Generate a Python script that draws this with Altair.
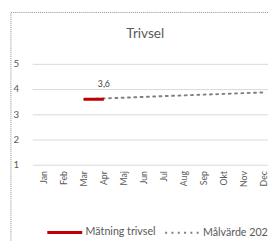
import altair as alt
import pandas as pd

months = ["Jan", "Feb", "Mar", "Apr", "Maj", "Jun", "Jul", "Aug", "Sep", "Okt", "Nov", "Dec"]
matning = [None, None, 3.6, 3.6, None, None, None, None, None, None, None, None]
malvarde = [None, None, 3.6, 3.63, 3.66, 3.69, 3.72, 3.75, 3.78, 3.81, 3.84, 3.87]
labels_matning = ["", "", "", "3,6", "", "", "", "", "", "", "", ""]
series = ["Mätning trivsel", "Målvärde 2022"]

rows = []
for i, m in enumerate(months):
    if matning[i] is not None:
        rows.append({"m": i + 1, "v": matning[i], "serie": series[0], "lab": labels_matning[i]})
    if malvarde[i] is not None:
        rows.append({"m": i + 1, "v": malvarde[i], "serie": series[1], "lab": ""})
df = pd.DataFrame(rows)

FONT = "Lato"
GRAY = "#595959"
month_expr = "[" + ",".join("'" + m + "'" for m in months) + "][datum.value-1]"

xenc = alt.X("m:Q", scale=alt.Scale(domain=[0.417, 12.21], nice=False, zero=False),
             axis=alt.Axis(values=list(range(1, 13)), labelExpr=month_expr, labelAngle=-90,
                           labelAlign="right", labelBaseline="middle", grid=False, domain=False,
                           ticks=False, labelPadding=6, labelFontSize=9, labelColor=GRAY,
                           labelFont=FONT, title=None))
yenc = alt.Y("v:Q", scale=alt.Scale(domain=[1, 5], nice=False, zero=False),
             axis=alt.Axis(values=[1, 2, 3, 4, 5], grid=True, gridColor="#d9d9d9", domain=False,
                           ticks=False, labelPadding=14, labelFontSize=10, labelColor=GRAY,
                           labelFont=FONT, title=None))

color = alt.Color("serie:N", scale=alt.Scale(domain=series, range=["#c00000", "#7f7f7f"]),
                  legend=alt.Legend(title=None, orient="none", direction="horizontal",
                                    legendX=14, legendY=154, symbolType="stroke", symbolSize=1296,
                                    labelFont=FONT, labelFontSize=11, labelColor=GRAY,
                                    columnPadding=5, labelOffset=2))
dash = alt.StrokeDash("serie:N", scale=alt.Scale(domain=series, range=[[1, 0], [2, 4.5]]), legend=None)
width = alt.StrokeWidth("serie:N", scale=alt.Scale(domain=series, range=[3, 2]), legend=None)

base = alt.Chart(df)
target = base.transform_filter(alt.datum.serie == series[1]).mark_line(strokeCap="round").encode(
    x=xenc, y=yenc, color=color, strokeDash=dash, strokeWidth=width)
meas = base.transform_filter(alt.datum.serie == series[0]).mark_line().encode(
    x=xenc, y=yenc, color=color, strokeDash=dash, strokeWidth=width)
txt = base.transform_filter(alt.datum.lab != "").mark_text(
    dy=-16, fontSize=9, color="#404040", font=FONT).encode(x=xenc, y=yenc, text="lab:N")

border = alt.Chart(pd.DataFrame({"a": [0]})).mark_rect(
    fillOpacity=0, stroke="#8a8a8a", strokeDash=[1, 1], strokeWidth=1).encode(
    x=alt.value(-22), x2=alt.value(400), y=alt.value(-53), y2=alt.value(400))

chart = alt.layer(border, target, meas, txt).properties(
    width=243, height=104,
    title=alt.TitleParams("Trivsel", font=FONT, fontSize=14, fontWeight="normal", color=GRAY,
                          anchor="middle", dx=-5, offset=0, dy=30),
    autosize=alt.AutoSizeParams(type="none"),
    padding={"left": 25, "top": 54, "right": 0, "bottom": 75},
).configure_view(stroke=None)

chart.save("out.html", embed_options={"renderer": "svg", "actions": False})
